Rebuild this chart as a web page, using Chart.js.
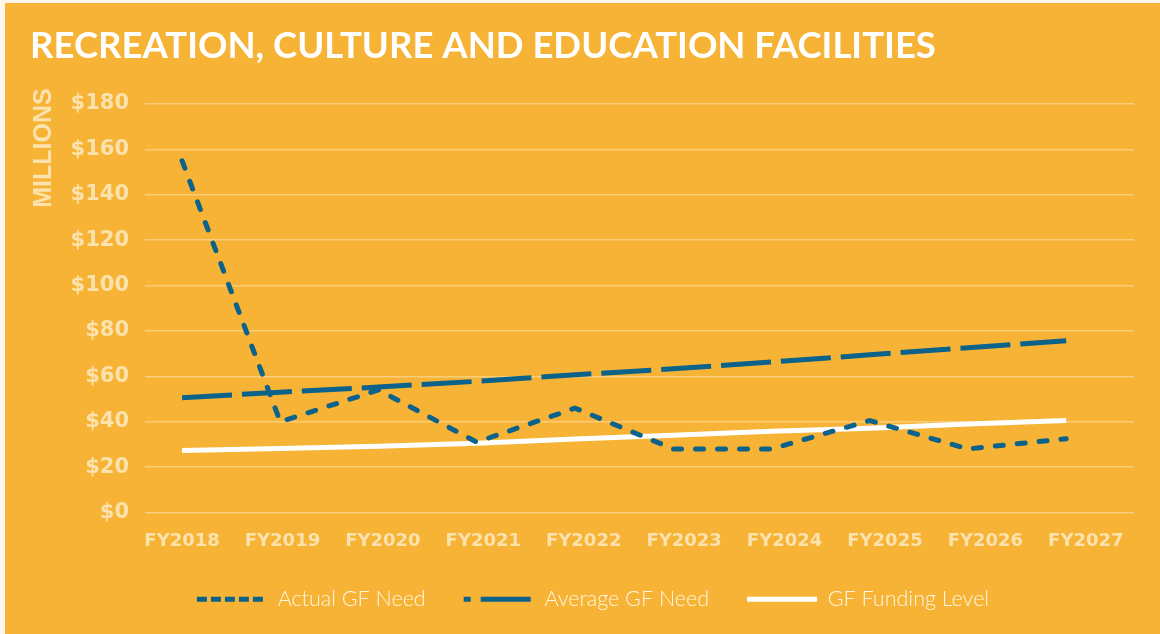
<!DOCTYPE html>
<html>
<head>
<meta charset="utf-8">
<script src="https://cdn.jsdelivr.net/npm/chart.js@4"></script>
<style>
  body { margin: 0; background: #fdf6ec; }
  #panel { position: absolute; left: 5px; top: 3px; width: 1155px; height: 631px; background: #f6b335; }
</style>
</head>
<body>
<div id="panel"><canvas id="grafico"></canvas></div>
<script>
// datos (millones de dolares)
const years = ['FY2018', 'FY2019', 'FY2020', 'FY2021', 'FY2022', 'FY2023', 'FY2024', 'FY2025', 'FY2026', 'FY2027'];
const actualNeed = [155, 40, 54, 31, 46, 28, 28, 40.5, 28, 32.5];
const averageNeed = [50.6, 53, 55.3, 57.8, 60.7, 63.3, 66.3, 69.5, 72.6, 75.7];
const fundingLevel = [27.3, 28.2, 29.2, 30.5, 32.4, 34, 35.8, 37.1, 39, 40.5];
const yTicks = [0, 20, 40, 60, 80, 100, 120, 140, 160, 180];

const titulo = 'RECREATION, CULTURE AND EDUCATION FACILITIES';
const azul = '#0b628a';
const textoPalido = '#fce2ad';

// trazos de la leyenda (mas cortos que en las lineas)
const legendDash = [[10, 4], [50, 10], []];
const legendDashOffset = [0, 43, 0];

function puntos(vals) {
    return vals.map((v, i) => ({ x: i, y: v }));
}

// titulo y etiqueta "MILLIONS" dibujados a mano
const textosFijos = {
    id: 'textosFijos',
    afterDraw(chart) {
        const ctx = chart.ctx;
        ctx.save();
        ctx.font = 'bold 36.5px Lato';
        ctx.fillStyle = '#ffffff';
        ctx.textAlign = 'left';
        ctx.textBaseline = 'middle';
        ctx.fillText(titulo, 25, 43);

        ctx.translate(39, 145);
        ctx.rotate(-Math.PI / 2);
        ctx.font = 'bold 25px "Liberation Sans"';
        ctx.fillStyle = textoPalido;
        ctx.textAlign = 'center';
        ctx.fillText('MILLIONS', 0, 0);
        ctx.restore();
    }
};

const ctx = document.getElementById('grafico').getContext('2d');
const grafico = new Chart(ctx, {
    type: 'line',
    data: {
        datasets: [{
            label: 'Actual GF Need',
            data: puntos(actualNeed),
            borderColor: azul,
            backgroundColor: azul,
            borderWidth: 5,
            borderDash: [8, 14],
            borderCapStyle: 'round',
            pointRadius: 0,
            order: 1
        }, {
            label: 'Average GF Need',
            data: puntos(averageNeed),
            borderColor: azul,
            backgroundColor: azul,
            borderWidth: 5,
            borderDash: [50, 10],
            pointRadius: 0,
            order: 2
        }, {
            label: 'GF Funding Level',
            data: puntos(fundingLevel),
            borderColor: '#ffffff',
            backgroundColor: '#ffffff',
            borderWidth: 5,
            pointRadius: 0,
            order: 3
        }]
    },
    options: {
        responsive: true,
        maintainAspectRatio: false,
        animation: false,
        layout: { padding: { left: 47, right: 26, top: 101, bottom: 14 } },
        plugins: {
            tooltip: { enabled: false },
            title: { display: false },
            legend: {
                position: 'bottom',
                labels: {
                    usePointStyle: true,
                    pointStyle: 'line',
                    pointStyleWidth: 70,
                    padding: 38,
                    color: '#fff6e2',
                    font: { family: 'Lato', size: 21.5, weight: '300' },
                    generateLabels(chart) {
                        const items = Chart.defaults.plugins.legend.labels.generateLabels(chart);
                        items.forEach((item, i) => {
                            item.lineWidth = 5;
                            item.lineCap = 'butt';
                            item.lineDash = legendDash[i];
                            item.lineDashOffset = legendDashOffset[i];
                        });
                        return items;
                    }
                }
            }
        },
        scales: {
            x: {
                type: 'linear',
                display: false,
                min: -0.377,
                max: 9.69
            },
            x2: {
                type: 'linear',
                position: 'bottom',
                min: -0.369,
                max: 9.48,
                afterFit(scale) { scale.height = 38; },
                grid: { display: false, drawTicks: false },
                border: { display: false },
                ticks: {
                    stepSize: 1,
                    includeBounds: false,
                    autoSkip: false,
                    maxRotation: 0,
                    padding: 20,
                    color: textoPalido,
                    font: { family: 'DejaVu Sans', size: 18, weight: 'bold', lineHeight: 1 },
                    callback: (v) => years[v]
                }
            },
            y: {
                min: 0,
                max: 180,
                afterFit(scale) { scale.width = 93; },
                afterBuildTicks(scale) { scale.ticks = yTicks.map(v => ({ value: v })); },
                grid: { color: '#f9cd7c', lineWidth: 1.5, drawTicks: false },
                border: { display: false },
                ticks: {
                    padding: 16,
                    color: textoPalido,
                    font: { family: 'DejaVu Sans', size: 21, weight: 'bold' },
                    callback: (v) => '$' + v
                }
            }
        }
    },
    plugins: [textosFijos]
});
</script>
</body>
</html>
